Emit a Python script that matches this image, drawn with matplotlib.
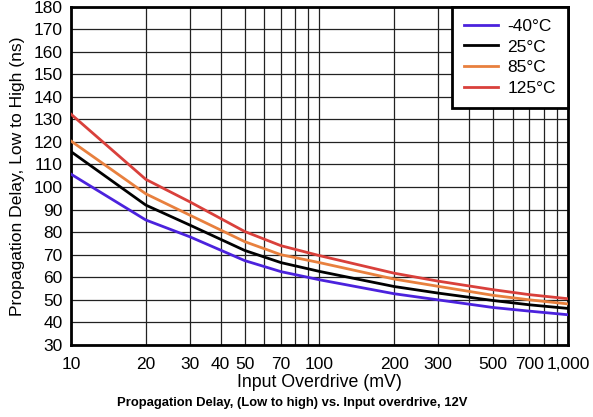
import matplotlib
matplotlib.use("Agg")
import matplotlib.pyplot as plt
from matplotlib.ticker import FixedLocator, FixedFormatter, NullFormatter
import numpy as np

# data
overdrive = [10, 20, 30, 50, 70, 100, 200, 300, 500, 700, 1000]
delay_m40 = [105.7, 85.4, 78.0, 67.4, 62.5, 58.9, 52.7, 50.0, 46.6, 45.0, 43.4]
delay_25 = [115.7, 92.0, 83.2, 71.9, 66.5, 62.6, 55.9, 53.0, 49.7, 47.8, 46.2]
delay_85 = [120.4, 97.0, 87.6, 75.8, 70.0, 66.5, 59.2, 56.0, 52.0, 50.0, 48.2]
delay_125 = [132.3, 103.4, 93.5, 80.3, 74.0, 69.6, 61.8, 58.3, 54.5, 52.3, 50.5]

series = [("-40°C", delay_m40, "#4b22dd"),
          ("25°C", delay_25, "#000000"),
          ("85°C", delay_85, "#e8803e"),
          ("125°C", delay_125, "#d9403b")]

xticks = [10, 20, 30, 40, 50, 70, 100, 200, 300, 500, 700, 1000]
xticklabels = ["10", "20", "30", "40", "50", "70", "100", "200", "300", "500", "700", "1,000"]

plt.rcParams['font.family'] = ['Liberation Sans', 'DejaVu Sans']

fig = plt.figure(figsize=(5.93, 4.17), dpi=100)
ax = fig.add_axes([0.1197, 0.1727, 0.8381, 0.8117])

for label, vals, color in series:
    ax.plot(overdrive, vals, color=color, lw=2, label=label, zorder=3)

ax.set_xscale('log')
ax.set_xlim(10, 1000)
ax.set_ylim(30, 180)
ax.set_yticks(np.arange(30, 181, 10))
ax.xaxis.set_major_locator(FixedLocator(xticks))
ax.xaxis.set_major_formatter(FixedFormatter(xticklabels))
ax.xaxis.set_minor_locator(FixedLocator([60, 80, 90, 400, 600, 800, 900]))
ax.xaxis.set_minor_formatter(NullFormatter())
ax.tick_params(which='both', length=0, labelsize=12.5)
ax.tick_params(axis='y', pad=6)
ax.tick_params(axis='x', pad=9)
ax.grid(True, which='both', color='#222222', lw=0.9)
for s in ax.spines.values():
    s.set_linewidth(2)

ax.set_xlabel("Input Overdrive (mV)", fontsize=12.8, labelpad=1)
ax.set_ylabel("Propagation Delay, Low to High (ns)", fontsize=12.6, labelpad=6)

leg = ax.legend(loc='upper right', fontsize=12.5, frameon=True, fancybox=False,
                borderaxespad=0, handlelength=1.95, handletextpad=0.52,
                labelspacing=0.32, borderpad=0.7)
leg.get_frame().set_edgecolor('black')
leg.get_frame().set_linewidth(2)
leg.get_frame().set_alpha(1)

fig.text(0.493, 0.018, "Propagation Delay, (Low to high) vs. Input overdrive, 12V",
         ha='center', va='bottom', fontsize=9.4, fontweight='bold',
         family=['Liberation Sans Narrow', 'Liberation Sans', 'DejaVu Sans'])

fig.savefig("out.png", dpi=100)
